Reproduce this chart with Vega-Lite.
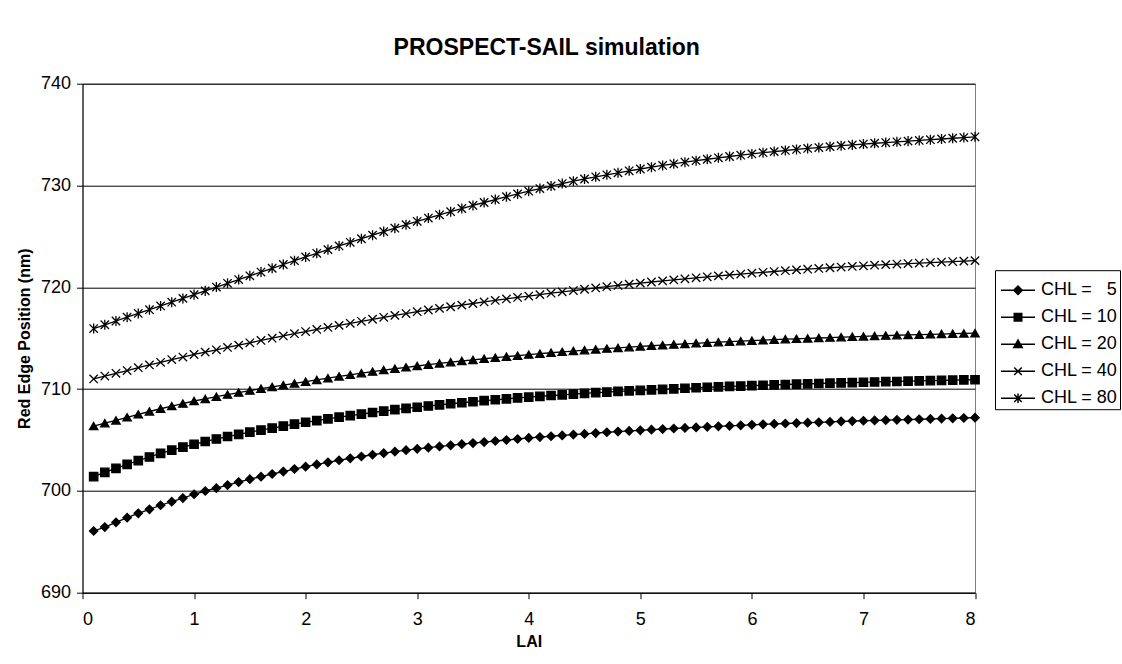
{
  "$schema": "https://vega.github.io/schema/vega-lite/v6.json",
  "width": 892.5,
  "height": 509,
  "autosize": {"type": "none"},
  "padding": {"left": 82.5, "top": 83.7, "right": 146.5, "bottom": 71.3},
  "background": "white",
  "title": {"text": "PROSPECT-SAIL simulation", "font": "Liberation Sans", "fontSize": 23, "fontWeight": "bold", "color": "black", "anchor": "middle", "frame": "group", "offset": 15, "dx": 18},
  "config": {
    "view": {"stroke": "#808080", "strokeWidth": 1},
    "axis": {"labelFont": "Liberation Sans", "labelFontSize": 18, "labelColor": "black", "titleFont": "Liberation Sans", "titleFontSize": 16, "titleFontWeight": "bold", "titleColor": "black", "domainColor": "black", "tickColor": "black", "tickSize": 6, "domainWidth": 1, "tickWidth": 1}
  },
  "data": {"values": [
{"LAI":0.1,"CHL":5,"RE":696.06},{"LAI":0.2,"CHL":5,"RE":696.45},{"LAI":0.3,"CHL":5,"RE":696.91},{"LAI":0.4,"CHL":5,"RE":697.37},{"LAI":0.5,"CHL":5,"RE":697.8},{"LAI":0.6,"CHL":5,"RE":698.19},{"LAI":0.7,"CHL":5,"RE":698.59},{"LAI":0.8,"CHL":5,"RE":698.94},{"LAI":0.9,"CHL":5,"RE":699.3},{"LAI":1.0,"CHL":5,"RE":699.67},
{"LAI":1.1,"CHL":5,"RE":699.99},{"LAI":1.2,"CHL":5,"RE":700.27},{"LAI":1.3,"CHL":5,"RE":700.57},{"LAI":1.4,"CHL":5,"RE":700.87},{"LAI":1.5,"CHL":5,"RE":701.15},{"LAI":1.6,"CHL":5,"RE":701.4},{"LAI":1.7,"CHL":5,"RE":701.66},{"LAI":1.8,"CHL":5,"RE":701.9},{"LAI":1.9,"CHL":5,"RE":702.15},{"LAI":2.0,"CHL":5,"RE":702.38},
{"LAI":2.1,"CHL":5,"RE":702.6},{"LAI":2.2,"CHL":5,"RE":702.81},{"LAI":2.3,"CHL":5,"RE":703.01},{"LAI":2.4,"CHL":5,"RE":703.2},{"LAI":2.5,"CHL":5,"RE":703.38},{"LAI":2.6,"CHL":5,"RE":703.55},{"LAI":2.7,"CHL":5,"RE":703.71},{"LAI":2.8,"CHL":5,"RE":703.86},{"LAI":2.9,"CHL":5,"RE":704.0},{"LAI":3.0,"CHL":5,"RE":704.13},
{"LAI":3.1,"CHL":5,"RE":704.25},{"LAI":3.2,"CHL":5,"RE":704.37},{"LAI":3.3,"CHL":5,"RE":704.48},{"LAI":3.4,"CHL":5,"RE":704.59},{"LAI":3.5,"CHL":5,"RE":704.7},{"LAI":3.6,"CHL":5,"RE":704.8},{"LAI":3.7,"CHL":5,"RE":704.9},{"LAI":3.8,"CHL":5,"RE":705.0},{"LAI":3.9,"CHL":5,"RE":705.1},{"LAI":4.0,"CHL":5,"RE":705.2},
{"LAI":4.1,"CHL":5,"RE":705.29},{"LAI":4.2,"CHL":5,"RE":705.37},{"LAI":4.3,"CHL":5,"RE":705.45},{"LAI":4.4,"CHL":5,"RE":705.53},{"LAI":4.5,"CHL":5,"RE":705.6},{"LAI":4.6,"CHL":5,"RE":705.68},{"LAI":4.7,"CHL":5,"RE":705.76},{"LAI":4.8,"CHL":5,"RE":705.83},{"LAI":4.9,"CHL":5,"RE":705.89},{"LAI":5.0,"CHL":5,"RE":705.95},
{"LAI":5.1,"CHL":5,"RE":706.01},{"LAI":5.2,"CHL":5,"RE":706.07},{"LAI":5.3,"CHL":5,"RE":706.13},{"LAI":5.4,"CHL":5,"RE":706.19},{"LAI":5.5,"CHL":5,"RE":706.24},{"LAI":5.6,"CHL":5,"RE":706.29},{"LAI":5.7,"CHL":5,"RE":706.34},{"LAI":5.8,"CHL":5,"RE":706.39},{"LAI":5.9,"CHL":5,"RE":706.44},{"LAI":6.0,"CHL":5,"RE":706.49},
{"LAI":6.1,"CHL":5,"RE":706.54},{"LAI":6.2,"CHL":5,"RE":706.58},{"LAI":6.3,"CHL":5,"RE":706.62},{"LAI":6.4,"CHL":5,"RE":706.66},{"LAI":6.5,"CHL":5,"RE":706.7},{"LAI":6.6,"CHL":5,"RE":706.74},{"LAI":6.7,"CHL":5,"RE":706.78},{"LAI":6.8,"CHL":5,"RE":706.82},{"LAI":6.9,"CHL":5,"RE":706.86},{"LAI":7.0,"CHL":5,"RE":706.89},
{"LAI":7.1,"CHL":5,"RE":706.92},{"LAI":7.2,"CHL":5,"RE":706.95},{"LAI":7.3,"CHL":5,"RE":706.98},{"LAI":7.4,"CHL":5,"RE":707.01},{"LAI":7.5,"CHL":5,"RE":707.04},{"LAI":7.6,"CHL":5,"RE":707.07},{"LAI":7.7,"CHL":5,"RE":707.1},{"LAI":7.8,"CHL":5,"RE":707.13},{"LAI":7.9,"CHL":5,"RE":707.16},{"LAI":8.0,"CHL":5,"RE":707.19},
{"LAI":0.1,"CHL":10,"RE":701.4},{"LAI":0.2,"CHL":10,"RE":701.82},{"LAI":0.3,"CHL":10,"RE":702.22},{"LAI":0.4,"CHL":10,"RE":702.6},{"LAI":0.5,"CHL":10,"RE":702.97},{"LAI":0.6,"CHL":10,"RE":703.33},{"LAI":0.7,"CHL":10,"RE":703.68},{"LAI":0.8,"CHL":10,"RE":704.0},{"LAI":0.9,"CHL":10,"RE":704.3},{"LAI":1.0,"CHL":10,"RE":704.58},
{"LAI":1.1,"CHL":10,"RE":704.85},{"LAI":1.2,"CHL":10,"RE":705.1},{"LAI":1.3,"CHL":10,"RE":705.34},{"LAI":1.4,"CHL":10,"RE":705.56},{"LAI":1.5,"CHL":10,"RE":705.77},{"LAI":1.6,"CHL":10,"RE":705.97},{"LAI":1.7,"CHL":10,"RE":706.17},{"LAI":1.8,"CHL":10,"RE":706.37},{"LAI":1.9,"CHL":10,"RE":706.56},{"LAI":2.0,"CHL":10,"RE":706.74},
{"LAI":2.1,"CHL":10,"RE":706.91},{"LAI":2.2,"CHL":10,"RE":707.08},{"LAI":2.3,"CHL":10,"RE":707.24},{"LAI":2.4,"CHL":10,"RE":707.4},{"LAI":2.5,"CHL":10,"RE":707.55},{"LAI":2.6,"CHL":10,"RE":707.7},{"LAI":2.7,"CHL":10,"RE":707.84},{"LAI":2.8,"CHL":10,"RE":707.98},{"LAI":2.9,"CHL":10,"RE":708.1},{"LAI":3.0,"CHL":10,"RE":708.22},
{"LAI":3.1,"CHL":10,"RE":708.34},{"LAI":3.2,"CHL":10,"RE":708.45},{"LAI":3.3,"CHL":10,"RE":708.56},{"LAI":3.4,"CHL":10,"RE":708.66},{"LAI":3.5,"CHL":10,"RE":708.76},{"LAI":3.6,"CHL":10,"RE":708.86},{"LAI":3.7,"CHL":10,"RE":708.95},{"LAI":3.8,"CHL":10,"RE":709.04},{"LAI":3.9,"CHL":10,"RE":709.13},{"LAI":4.0,"CHL":10,"RE":709.21},
{"LAI":4.1,"CHL":10,"RE":709.29},{"LAI":4.2,"CHL":10,"RE":709.37},{"LAI":4.3,"CHL":10,"RE":709.44},{"LAI":4.4,"CHL":10,"RE":709.51},{"LAI":4.5,"CHL":10,"RE":709.58},{"LAI":4.6,"CHL":10,"RE":709.65},{"LAI":4.7,"CHL":10,"RE":709.71},{"LAI":4.8,"CHL":10,"RE":709.77},{"LAI":4.9,"CHL":10,"RE":709.83},{"LAI":5.0,"CHL":10,"RE":709.88},
{"LAI":5.1,"CHL":10,"RE":709.93},{"LAI":5.2,"CHL":10,"RE":709.98},{"LAI":5.3,"CHL":10,"RE":710.03},{"LAI":5.4,"CHL":10,"RE":710.08},{"LAI":5.5,"CHL":10,"RE":710.13},{"LAI":5.6,"CHL":10,"RE":710.18},{"LAI":5.7,"CHL":10,"RE":710.22},{"LAI":5.8,"CHL":10,"RE":710.26},{"LAI":5.9,"CHL":10,"RE":710.3},{"LAI":6.0,"CHL":10,"RE":710.34},
{"LAI":6.1,"CHL":10,"RE":710.38},{"LAI":6.2,"CHL":10,"RE":710.42},{"LAI":6.3,"CHL":10,"RE":710.45},{"LAI":6.4,"CHL":10,"RE":710.49},{"LAI":6.5,"CHL":10,"RE":710.52},{"LAI":6.6,"CHL":10,"RE":710.55},{"LAI":6.7,"CHL":10,"RE":710.58},{"LAI":6.8,"CHL":10,"RE":710.61},{"LAI":6.9,"CHL":10,"RE":710.64},{"LAI":7.0,"CHL":10,"RE":710.67},
{"LAI":7.1,"CHL":10,"RE":710.7},{"LAI":7.2,"CHL":10,"RE":710.73},{"LAI":7.3,"CHL":10,"RE":710.75},{"LAI":7.4,"CHL":10,"RE":710.78},{"LAI":7.5,"CHL":10,"RE":710.8},{"LAI":7.6,"CHL":10,"RE":710.83},{"LAI":7.7,"CHL":10,"RE":710.85},{"LAI":7.8,"CHL":10,"RE":710.88},{"LAI":7.9,"CHL":10,"RE":710.9},{"LAI":8.0,"CHL":10,"RE":710.92},
{"LAI":0.1,"CHL":20,"RE":706.37},{"LAI":0.2,"CHL":20,"RE":706.65},{"LAI":0.3,"CHL":20,"RE":706.93},{"LAI":0.4,"CHL":20,"RE":707.23},{"LAI":0.5,"CHL":20,"RE":707.52},{"LAI":0.6,"CHL":20,"RE":707.8},{"LAI":0.7,"CHL":20,"RE":708.07},{"LAI":0.8,"CHL":20,"RE":708.33},{"LAI":0.9,"CHL":20,"RE":708.58},{"LAI":1.0,"CHL":20,"RE":708.83},
{"LAI":1.1,"CHL":20,"RE":709.04},{"LAI":1.2,"CHL":20,"RE":709.25},{"LAI":1.3,"CHL":20,"RE":709.46},{"LAI":1.4,"CHL":20,"RE":709.66},{"LAI":1.5,"CHL":20,"RE":709.86},{"LAI":1.6,"CHL":20,"RE":710.04},{"LAI":1.7,"CHL":20,"RE":710.22},{"LAI":1.8,"CHL":20,"RE":710.39},{"LAI":1.9,"CHL":20,"RE":710.56},{"LAI":2.0,"CHL":20,"RE":710.73},
{"LAI":2.1,"CHL":20,"RE":710.9},{"LAI":2.2,"CHL":20,"RE":711.07},{"LAI":2.3,"CHL":20,"RE":711.24},{"LAI":2.4,"CHL":20,"RE":711.4},{"LAI":2.5,"CHL":20,"RE":711.56},{"LAI":2.6,"CHL":20,"RE":711.72},{"LAI":2.7,"CHL":20,"RE":711.87},{"LAI":2.8,"CHL":20,"RE":712.0},{"LAI":2.9,"CHL":20,"RE":712.14},{"LAI":3.0,"CHL":20,"RE":712.27},
{"LAI":3.1,"CHL":20,"RE":712.4},{"LAI":3.2,"CHL":20,"RE":712.52},{"LAI":3.3,"CHL":20,"RE":712.64},{"LAI":3.4,"CHL":20,"RE":712.76},{"LAI":3.5,"CHL":20,"RE":712.87},{"LAI":3.6,"CHL":20,"RE":712.98},{"LAI":3.7,"CHL":20,"RE":713.09},{"LAI":3.8,"CHL":20,"RE":713.19},{"LAI":3.9,"CHL":20,"RE":713.29},{"LAI":4.0,"CHL":20,"RE":713.39},
{"LAI":4.1,"CHL":20,"RE":713.48},{"LAI":4.2,"CHL":20,"RE":713.57},{"LAI":4.3,"CHL":20,"RE":713.66},{"LAI":4.4,"CHL":20,"RE":713.74},{"LAI":4.5,"CHL":20,"RE":713.82},{"LAI":4.6,"CHL":20,"RE":713.9},{"LAI":4.7,"CHL":20,"RE":713.98},{"LAI":4.8,"CHL":20,"RE":714.05},{"LAI":4.9,"CHL":20,"RE":714.12},{"LAI":5.0,"CHL":20,"RE":714.19},
{"LAI":5.1,"CHL":20,"RE":714.26},{"LAI":5.2,"CHL":20,"RE":714.32},{"LAI":5.3,"CHL":20,"RE":714.38},{"LAI":5.4,"CHL":20,"RE":714.44},{"LAI":5.5,"CHL":20,"RE":714.5},{"LAI":5.6,"CHL":20,"RE":714.56},{"LAI":5.7,"CHL":20,"RE":714.61},{"LAI":5.8,"CHL":20,"RE":714.66},{"LAI":5.9,"CHL":20,"RE":714.71},{"LAI":6.0,"CHL":20,"RE":714.76},
{"LAI":6.1,"CHL":20,"RE":714.81},{"LAI":6.2,"CHL":20,"RE":714.86},{"LAI":6.3,"CHL":20,"RE":714.9},{"LAI":6.4,"CHL":20,"RE":714.94},{"LAI":6.5,"CHL":20,"RE":714.98},{"LAI":6.6,"CHL":20,"RE":715.02},{"LAI":6.7,"CHL":20,"RE":715.06},{"LAI":6.8,"CHL":20,"RE":715.1},{"LAI":6.9,"CHL":20,"RE":715.14},{"LAI":7.0,"CHL":20,"RE":715.18},
{"LAI":7.1,"CHL":20,"RE":715.22},{"LAI":7.2,"CHL":20,"RE":715.26},{"LAI":7.3,"CHL":20,"RE":715.29},{"LAI":7.4,"CHL":20,"RE":715.32},{"LAI":7.5,"CHL":20,"RE":715.35},{"LAI":7.6,"CHL":20,"RE":715.38},{"LAI":7.7,"CHL":20,"RE":715.41},{"LAI":7.8,"CHL":20,"RE":715.44},{"LAI":7.9,"CHL":20,"RE":715.47},{"LAI":8.0,"CHL":20,"RE":715.5},
{"LAI":0.1,"CHL":40,"RE":711.0},{"LAI":0.2,"CHL":40,"RE":711.28},{"LAI":0.3,"CHL":40,"RE":711.55},{"LAI":0.4,"CHL":40,"RE":711.82},{"LAI":0.5,"CHL":40,"RE":712.1},{"LAI":0.6,"CHL":40,"RE":712.37},{"LAI":0.7,"CHL":40,"RE":712.63},{"LAI":0.8,"CHL":40,"RE":712.9},{"LAI":0.9,"CHL":40,"RE":713.15},{"LAI":1.0,"CHL":40,"RE":713.4},
{"LAI":1.1,"CHL":40,"RE":713.63},{"LAI":1.2,"CHL":40,"RE":713.86},{"LAI":1.3,"CHL":40,"RE":714.09},{"LAI":1.4,"CHL":40,"RE":714.32},{"LAI":1.5,"CHL":40,"RE":714.55},{"LAI":1.6,"CHL":40,"RE":714.78},{"LAI":1.7,"CHL":40,"RE":715.0},{"LAI":1.8,"CHL":40,"RE":715.22},{"LAI":1.9,"CHL":40,"RE":715.44},{"LAI":2.0,"CHL":40,"RE":715.65},
{"LAI":2.1,"CHL":40,"RE":715.86},{"LAI":2.2,"CHL":40,"RE":716.06},{"LAI":2.3,"CHL":40,"RE":716.26},{"LAI":2.4,"CHL":40,"RE":716.46},{"LAI":2.5,"CHL":40,"RE":716.66},{"LAI":2.6,"CHL":40,"RE":716.86},{"LAI":2.7,"CHL":40,"RE":717.05},{"LAI":2.8,"CHL":40,"RE":717.24},{"LAI":2.9,"CHL":40,"RE":717.42},{"LAI":3.0,"CHL":40,"RE":717.6},
{"LAI":3.1,"CHL":40,"RE":717.77},{"LAI":3.2,"CHL":40,"RE":717.93},{"LAI":3.3,"CHL":40,"RE":718.09},{"LAI":3.4,"CHL":40,"RE":718.25},{"LAI":3.5,"CHL":40,"RE":718.41},{"LAI":3.6,"CHL":40,"RE":718.56},{"LAI":3.7,"CHL":40,"RE":718.71},{"LAI":3.8,"CHL":40,"RE":718.86},{"LAI":3.9,"CHL":40,"RE":719.0},{"LAI":4.0,"CHL":40,"RE":719.14},
{"LAI":4.1,"CHL":40,"RE":719.28},{"LAI":4.2,"CHL":40,"RE":719.42},{"LAI":4.3,"CHL":40,"RE":719.55},{"LAI":4.4,"CHL":40,"RE":719.68},{"LAI":4.5,"CHL":40,"RE":719.81},{"LAI":4.6,"CHL":40,"RE":719.94},{"LAI":4.7,"CHL":40,"RE":720.06},{"LAI":4.8,"CHL":40,"RE":720.18},{"LAI":4.9,"CHL":40,"RE":720.3},{"LAI":5.0,"CHL":40,"RE":720.41},
{"LAI":5.1,"CHL":40,"RE":720.52},{"LAI":5.2,"CHL":40,"RE":720.63},{"LAI":5.3,"CHL":40,"RE":720.73},{"LAI":5.4,"CHL":40,"RE":720.83},{"LAI":5.5,"CHL":40,"RE":720.93},{"LAI":5.6,"CHL":40,"RE":721.03},{"LAI":5.7,"CHL":40,"RE":721.12},{"LAI":5.8,"CHL":40,"RE":721.21},{"LAI":5.9,"CHL":40,"RE":721.3},{"LAI":6.0,"CHL":40,"RE":721.39},
{"LAI":6.1,"CHL":40,"RE":721.47},{"LAI":6.2,"CHL":40,"RE":721.55},{"LAI":6.3,"CHL":40,"RE":721.63},{"LAI":6.4,"CHL":40,"RE":721.71},{"LAI":6.5,"CHL":40,"RE":721.78},{"LAI":6.6,"CHL":40,"RE":721.85},{"LAI":6.7,"CHL":40,"RE":721.92},{"LAI":6.8,"CHL":40,"RE":721.99},{"LAI":6.9,"CHL":40,"RE":722.05},{"LAI":7.0,"CHL":40,"RE":722.11},
{"LAI":7.1,"CHL":40,"RE":722.17},{"LAI":7.2,"CHL":40,"RE":722.23},{"LAI":7.3,"CHL":40,"RE":722.28},{"LAI":7.4,"CHL":40,"RE":722.33},{"LAI":7.5,"CHL":40,"RE":722.38},{"LAI":7.6,"CHL":40,"RE":722.43},{"LAI":7.7,"CHL":40,"RE":722.48},{"LAI":7.8,"CHL":40,"RE":722.53},{"LAI":7.9,"CHL":40,"RE":722.57},{"LAI":8.0,"CHL":40,"RE":722.62},
{"LAI":0.1,"CHL":80,"RE":715.95},{"LAI":0.2,"CHL":80,"RE":716.32},{"LAI":0.3,"CHL":80,"RE":716.69},{"LAI":0.4,"CHL":80,"RE":717.06},{"LAI":0.5,"CHL":80,"RE":717.43},{"LAI":0.6,"CHL":80,"RE":717.8},{"LAI":0.7,"CHL":80,"RE":718.17},{"LAI":0.8,"CHL":80,"RE":718.54},{"LAI":0.9,"CHL":80,"RE":718.91},{"LAI":1.0,"CHL":80,"RE":719.28},
{"LAI":1.1,"CHL":80,"RE":719.65},{"LAI":1.2,"CHL":80,"RE":720.02},{"LAI":1.3,"CHL":80,"RE":720.39},{"LAI":1.4,"CHL":80,"RE":720.76},{"LAI":1.5,"CHL":80,"RE":721.13},{"LAI":1.6,"CHL":80,"RE":721.5},{"LAI":1.7,"CHL":80,"RE":721.87},{"LAI":1.8,"CHL":80,"RE":722.24},{"LAI":1.9,"CHL":80,"RE":722.61},{"LAI":2.0,"CHL":80,"RE":722.98},
{"LAI":2.1,"CHL":80,"RE":723.34},{"LAI":2.2,"CHL":80,"RE":723.7},{"LAI":2.3,"CHL":80,"RE":724.06},{"LAI":2.4,"CHL":80,"RE":724.42},{"LAI":2.5,"CHL":80,"RE":724.77},{"LAI":2.6,"CHL":80,"RE":725.12},{"LAI":2.7,"CHL":80,"RE":725.47},{"LAI":2.8,"CHL":80,"RE":725.81},{"LAI":2.9,"CHL":80,"RE":726.15},{"LAI":3.0,"CHL":80,"RE":726.48},
{"LAI":3.1,"CHL":80,"RE":726.8},{"LAI":3.2,"CHL":80,"RE":727.12},{"LAI":3.3,"CHL":80,"RE":727.43},{"LAI":3.4,"CHL":80,"RE":727.74},{"LAI":3.5,"CHL":80,"RE":728.04},{"LAI":3.6,"CHL":80,"RE":728.33},{"LAI":3.7,"CHL":80,"RE":728.62},{"LAI":3.8,"CHL":80,"RE":728.9},{"LAI":3.9,"CHL":80,"RE":729.17},{"LAI":4.0,"CHL":80,"RE":729.44},
{"LAI":4.1,"CHL":80,"RE":729.7},{"LAI":4.2,"CHL":80,"RE":729.95},{"LAI":4.3,"CHL":80,"RE":730.19},{"LAI":4.4,"CHL":80,"RE":730.42},{"LAI":4.5,"CHL":80,"RE":730.64},{"LAI":4.6,"CHL":80,"RE":730.85},{"LAI":4.7,"CHL":80,"RE":731.05},{"LAI":4.8,"CHL":80,"RE":731.25},{"LAI":4.9,"CHL":80,"RE":731.44},{"LAI":5.0,"CHL":80,"RE":731.62},
{"LAI":5.1,"CHL":80,"RE":731.8},{"LAI":5.2,"CHL":80,"RE":731.97},{"LAI":5.3,"CHL":80,"RE":732.13},{"LAI":5.4,"CHL":80,"RE":732.29},{"LAI":5.5,"CHL":80,"RE":732.44},{"LAI":5.6,"CHL":80,"RE":732.58},{"LAI":5.7,"CHL":80,"RE":732.72},{"LAI":5.8,"CHL":80,"RE":732.85},{"LAI":5.9,"CHL":80,"RE":732.98},{"LAI":6.0,"CHL":80,"RE":733.1},
{"LAI":6.1,"CHL":80,"RE":733.22},{"LAI":6.2,"CHL":80,"RE":733.33},{"LAI":6.3,"CHL":80,"RE":733.44},{"LAI":6.4,"CHL":80,"RE":733.54},{"LAI":6.5,"CHL":80,"RE":733.64},{"LAI":6.6,"CHL":80,"RE":733.73},{"LAI":6.7,"CHL":80,"RE":733.82},{"LAI":6.8,"CHL":80,"RE":733.91},{"LAI":6.9,"CHL":80,"RE":733.99},{"LAI":7.0,"CHL":80,"RE":734.07},
{"LAI":7.1,"CHL":80,"RE":734.15},{"LAI":7.2,"CHL":80,"RE":734.22},{"LAI":7.3,"CHL":80,"RE":734.29},{"LAI":7.4,"CHL":80,"RE":734.36},{"LAI":7.5,"CHL":80,"RE":734.43},{"LAI":7.6,"CHL":80,"RE":734.5},{"LAI":7.7,"CHL":80,"RE":734.57},{"LAI":7.8,"CHL":80,"RE":734.64},{"LAI":7.9,"CHL":80,"RE":734.71},{"LAI":8.0,"CHL":80,"RE":734.78}
  ]},
  "encoding": {
    "x": {"field": "LAI", "type": "quantitative", "scale": {"domain": [0, 8], "nice": false, "zero": false},
      "axis": {"title": "LAI", "values": [0,1,2,3,4,5,6,7,8], "grid": false, "labelPadding": 12, "titlePadding": 5, "format": "d"}},
    "y": {"field": "RE", "type": "quantitative", "scale": {"domain": [690, 740], "nice": false, "zero": false},
      "axis": {"title": "Red Edge Position (nm)", "values": [690,700,710,720,730,740], "grid": true, "gridColor": "black", "gridWidth": 1, "labelPadding": 6, "titlePadding": 8, "format": "d"}}
  },
  "layer": [
    {"mark": {"type": "line", "color": "black", "strokeWidth": 1.3}, "encoding": {"detail": {"field": "CHL", "type": "nominal"}}},
    {"mark": {"type": "point", "filled": true, "fill": "black", "stroke": "black", "strokeWidth": 1.3, "size": 70, "opacity": 1},
      "encoding": {"shape": {"field": "CHL", "type": "nominal",
        "scale": {"domain": [5, 10, 20, 40, 80], "range": ["diamond", "square", "triangle-up", "M-1,-1L1,1M-1,1L1,-1", "M-1,-1L1,1M-1,1L1,-1M0,-1.2L0,1.2"]},
        "legend": null}}},
    {"transform": [{"filter": "datum.LAI < 0"}],
      "mark": {"type": "point", "filled": true, "fill": "black", "stroke": "black", "strokeWidth": 1.2, "size": 1156, "opacity": 1},
      "encoding": {"shape": {"field": "CHL", "type": "nominal",
        "scale": {"domain": [5, 10, 20, 40, 80], "range": [
          "M-1,0L1,0M-0.25,0L0,-0.25L0.25,0L0,0.25Z",
          "M-1,0L1,0M-0.22,-0.22L0.22,-0.22L0.22,0.22L-0.22,0.22Z",
          "M-1,0L1,0M-0.25,0.2L0.25,0.2L0,-0.25Z",
          "M-1,0L1,0M-0.22,-0.22L0.22,0.22M-0.22,0.22L0.22,-0.22",
          "M-1,0L1,0M-0.22,-0.22L0.22,0.22M-0.22,0.22L0.22,-0.22M0,-0.28L0,0.28"]},
        "legend": {"orient": "none", "legendX": 912.5, "legendY": 186.5, "title": null,
          "labelExpr": "'CHL = ' + (datum.value < 10 ? '\u00a0\u00a0' : '') + datum.value",
          "labelFont": "Liberation Sans", "labelFontSize": 18, "labelColor": "black", "labelOffset": 5, "symbolOffset": 3,
          "strokeColor": "black", "fillColor": "white", "padding": 2, "rowPadding": -1,
          "symbolSize": 1156, "symbolOpacity": 1,
          "encode": {"symbols": {"update": {"stroke": {"value": "black"}, "fill": {"value": "black"}, "strokeWidth": {"value": 1.2}, "size": {"value": 1156}, "opacity": {"value": 1}}}}}}}}
  ],
  "resolve": {"scale": {"shape": "independent"}}
}
